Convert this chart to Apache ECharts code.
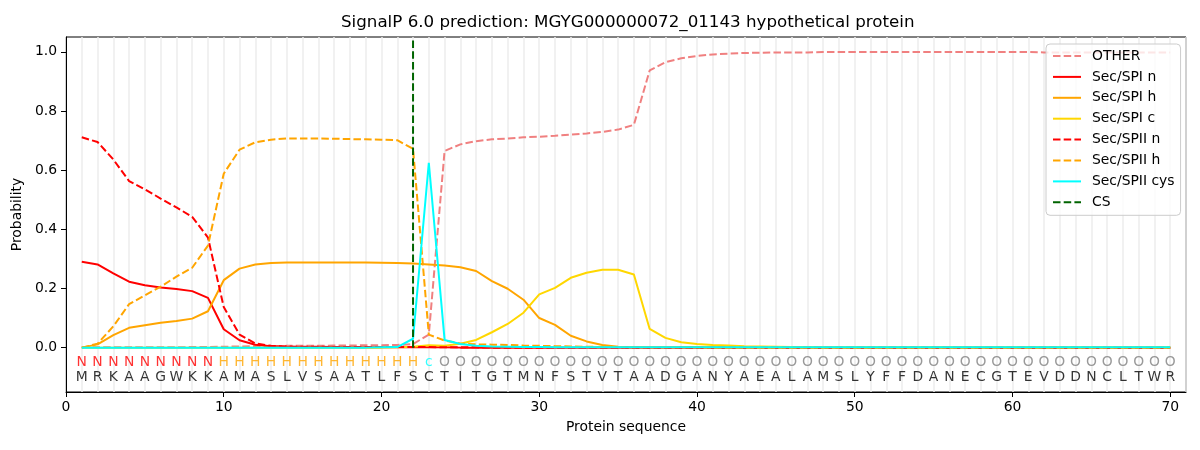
<!DOCTYPE html>
<html>
<head>
<meta charset="utf-8">
<script src="https://cdn.jsdelivr.net/npm/echarts@6/dist/echarts.min.js"></script>
<style>
html,body{margin:0;padding:0;background:#fff;}
#chart{width:1200px;height:450px;}
</style>
</head>
<body>
<div id="chart"></div>
<script>
const sequence = "MRKAAGWKKAMASLVSAATLFSCTITGTMNFSTVTAADGANYAEALAMSLYFFDANECGTEVDDNCLTWR".split("");
const regionLabels = "NNNNNNNNNHHHHHHHHHHHHHcOOOOOOOOOOOOOOOOOOOOOOOOOOOOOOOOOOOOOOOOOOOOOOO".split("");

const other = [0.001,0.001,0.001,0.001,0.001,0.001,0.001,0.002,0.002,0.003,
  0.004,0.005,0.005,0.006,0.006,0.006,0.007,0.007,0.008,0.008,
  0.009,0.012,0.044,0.665,0.687,0.698,0.704,0.707,0.711,0.713,
  0.716,0.720,0.724,0.729,0.737,0.753,0.937,0.965,0.978,0.986,
  0.991,0.994,0.996,0.997,0.998,0.998,0.998,0.999,0.999,0.999,
  0.999,0.999,0.999,0.999,0.999,0.999,0.999,0.999,0.999,0.999,
  0.999,0.998,0.998,0.998,0.998,0.998,0.998,0.998,0.998,0.998];
const secSpiN = [0.290,0.281,0.251,0.223,0.211,0.203,0.198,0.191,0.168,0.062,
  0.025,0.010,0.005,0.003,0.002,0.002,0.002,0.001,0.001,0.001,
  0.001,0.001,0.001,0.001,0,0,0,0,0,0,
  0,0,0,0,0,0,0,0,0,0,0,0,0,0,0,0,0,0,0,0,
  0,0,0,0,0,0,0,0,0,0,0,0,0,0,0,0,0,0,0,0];
const secSpiH = [0,0.011,0.042,0.067,0.076,0.084,0.090,0.098,0.123,0.228,
  0.267,0.281,0.286,0.288,0.288,0.288,0.288,0.288,0.288,0.287,
  0.286,0.284,0.281,0.278,0.272,0.259,0.225,0.199,0.162,0.100,
  0.077,0.040,0.021,0.009,0.003,0.002,0.001,0.001,0.001,0.001,
  0.001,0.001,0,0,0,0,0,0,0,0,0,0,0,0,0,0,0,0,0,0,
  0,0,0,0,0,0,0,0,0,0];
const secSpiC = [0,0,0,0,0,0,0,0,0,0,
  0,0,0,0,0,0,0,0,0,0,
  0.001,0.003,0.008,0.006,0.013,0.026,0.052,0.080,0.118,0.180,
  0.202,0.236,0.253,0.263,0.263,0.247,0.063,0.033,0.018,0.012,
  0.009,0.007,0.005,0.004,0.003,0.002,0.002,0.001,0.001,0.001,
  0.001,0.001,0.001,0.001,0.001,0.001,0.001,0.001,0.001,0.001,
  0.001,0.001,0.001,0.001,0.001,0.001,0.001,0.001,0.001,0.001];
const secSpiiN = [0.711,0.695,0.636,0.563,0.535,0.504,0.474,0.442,0.372,0.137,
  0.044,0.014,0.006,0.004,0.003,0.003,0.002,0.002,0.002,0.002,
  0.002,0.002,0.002,0.001,0.001,0.001,0,0,0,0,
  0,0,0,0,0,0,0,0,0,0,0,0,0,0,0,0,0,0,0,0,
  0,0,0,0,0,0,0,0,0,0,0,0,0,0,0,0,0,0,0,0];
const secSpiiH = [0,0.013,0.072,0.147,0.177,0.206,0.240,0.270,0.345,0.588,
  0.669,0.694,0.703,0.707,0.707,0.707,0.706,0.705,0.704,0.703,
  0.701,0.672,0.044,0.024,0.014,0.011,0.010,0.009,0.007,0.006,
  0.005,0.004,0.003,0.002,0.002,0.001,0.001,0.001,0.001,0.001,
  0,0,0,0,0,0,0,0,0,0,0,0,0,0,0,0,0,0,0,0,
  0,0,0,0,0,0,0,0,0,0];
const secSpiiCys = [0,0,0,0,0,0,0,0,0,0,
  0,0,0,0,0,0,0,0,0,0.001,
  0.002,0.030,0.625,0.026,0.012,0.006,0.004,0.003,0.002,0.002,
  0.001,0.001,0.001,0.001,0.001,0.001,0.001,0.001,0.001,0.001,
  0.001,0.001,0.001,0.001,0.001,0.001,0.001,0.001,0.001,0.001,
  0.001,0.001,0.001,0.001,0.001,0.001,0.001,0.001,0.001,0.001,
  0.001,0.001,0.001,0.001,0.001,0.001,0.001,0.001,0.001,0.001];
const csPosition = 22;
const csRange = [0, 1.04];

const xTicks = [0,10,20,30,40,50,60,70];
const yTicks = [0,0.2,0.4,0.6,0.8,1.0];
const regionRowY = -0.05;
const seqRowY = -0.1;

const labelColors = {N:'#ff0000', H:'#ffa500', c:'#00ffff', O:'#808080'};
const FONT = 'DejaVu Sans';
const dash = [7.5, 3.2];

function pts(arr){ return arr.map((v,i)=>[i+1, v]); }

function lineSeries(name, arr, color, dashed){
  return {
    name, type:'line', data: pts(arr), symbol:'none', showSymbol:false,
    lineStyle:{color, width:2, type: dashed ? dash : 'solid'},
    itemStyle:{color},
    animation:false, z:3
  };
}

const series = [
  lineSeries('OTHER', other, '#f08080', true),
  lineSeries('Sec/SPI n', secSpiN, '#ff0000', false),
  lineSeries('Sec/SPI h', secSpiH, '#ffa500', false),
  lineSeries('Sec/SPI c', secSpiC, '#ffd700', false),
  lineSeries('Sec/SPII n', secSpiiN, '#ff0000', true),
  lineSeries('Sec/SPII h', secSpiiH, '#ffa500', true),
  lineSeries('Sec/SPII cys', secSpiiCys, '#00ffff', false),
  {
    name:'CS', type:'line', data: csRange.map(v=>[csPosition, v]), symbol:'none', showSymbol:false,
    lineStyle:{color:'#006400', width:2, type: dash}, itemStyle:{color:'#006400'}, animation:false, z:4
  },
  {
    name:'regions', type:'scatter', symbolSize:2, itemStyle:{color:'rgba(0,0,0,0)'}, animation:false, silent:true,
    data: regionLabels.map((ch,i)=>({value:[i+1, regionRowY], label:{color:labelColors[ch]}, name:ch})),
    label:{show:true, position:'inside', formatter:p=>p.name, fontFamily:FONT, fontSize:13.9},
    labelLayout:{hideOverlap:false}
  },
  {
    name:'sequence', type:'scatter', symbolSize:2, itemStyle:{color:'rgba(0,0,0,0)'}, animation:false, silent:true,
    data: sequence.map((ch,i)=>({value:[i+1, seqRowY], name:ch})),
    label:{show:true, position:'inside', formatter:p=>p.name, color:'#000', fontFamily:FONT, fontSize:13.9},
    labelLayout:{hideOverlap:false}
  }
];

const chart = echarts.init(document.getElementById('chart'), null, {renderer:'canvas'});
chart.setOption({
  animation:false,
  backgroundColor:'#fff',
  textStyle:{fontFamily:FONT},
  title:{
    text:'SignalP 6.0 prediction: MGYG000000072_01143 hypothetical protein',
    left:341, top:14, padding:0,
    textStyle:{fontFamily:FONT, fontSize:16.7, fontWeight:'normal', color:'#000'}
  },
  grid:{left:66, right:14, top:37, bottom:58, show:true, borderColor:'#000', borderWidth:1, backgroundColor:'transparent'},
  legend:{
    data:['OTHER','Sec/SPI n','Sec/SPI h','Sec/SPI c','Sec/SPII n','Sec/SPII h','Sec/SPII cys','CS'],
    orient:'vertical', left:1046, top:44,
    padding:[5,6,6,6],
    itemWidth:28, itemHeight:14, itemGap:6.9,
    backgroundColor:'rgba(255,255,255,0.8)', borderColor:'#cccccc', borderWidth:1, borderRadius:4,
    itemStyle:{opacity:0},
    textStyle:{fontFamily:FONT, fontSize:13.9, color:'#000', padding:[0,0,0,6]}
  },
  xAxis:[{
    type:'value', min:0, max:71, interval:1,
    name:'Protein sequence', nameLocation:'middle', nameGap:28,
    nameTextStyle:{fontFamily:FONT, fontSize:13.9, color:'#000'},
    axisLine:{show:true, onZero:false, lineStyle:{color:'#000', width:1}},
    axisTick:{show:true, length:5, lineStyle:{color:'#000'}, customValues:xTicks},
    axisLabel:{show:true, margin:8, fontFamily:FONT, fontSize:13.9, color:'#000', customValues:xTicks},
    splitLine:{show:false}
  },{
    type:'value', min:0, max:71, interval:1, position:'top',
    axisLine:{show:false}, axisTick:{show:false}, axisLabel:{show:false},
    splitLine:{show:true, lineStyle:{color:'#ececec', width:1.5}}
  }],
  yAxis:{
    type:'value', min:-0.15, max:1.05,
    name:'Probability', nameLocation:'middle', nameGap:38, nameRotate:90,
    nameTextStyle:{fontFamily:FONT, fontSize:13.9, color:'#000'},
    axisLine:{show:true, onZero:false, lineStyle:{color:'#000', width:1}},
    axisTick:{show:true, length:5, lineStyle:{color:'#000'}, customValues:yTicks},
    axisLabel:{show:true, margin:9, fontFamily:FONT, fontSize:13.9, color:'#000', customValues:yTicks, formatter:v=>v.toFixed(1)},
    splitLine:{show:false}
  },
  series
});
</script>
</body>
</html>
